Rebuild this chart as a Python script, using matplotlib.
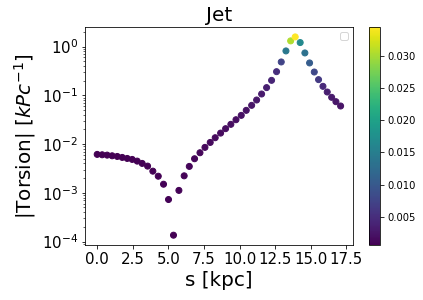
import numpy as np
import matplotlib
matplotlib.use('Agg')
import matplotlib.pyplot as plt

# arc length along the jet (kpc)
s = [0.0, 0.35, 0.70, 1.05, 1.41, 1.76, 2.11, 2.46, 2.81, 3.16,
     3.54, 3.91, 4.29, 4.66, 5.01, 5.36, 5.74, 6.11, 6.47, 6.84,
     7.22, 7.57, 7.94, 8.29, 8.67, 9.02, 9.39, 9.75, 10.12, 10.47,
     10.85, 11.20, 11.55, 11.90, 12.25, 12.60, 12.93, 13.26, 13.59, 13.91,
     14.26, 14.59, 14.92, 15.25, 15.55, 15.86, 16.16, 16.47, 16.77, 17.10]

# |torsion| (kPc^-1)
torsion = [0.00614, 0.00603, 0.00593, 0.00575, 0.00557, 0.00532, 0.00507, 0.00484, 0.00447, 0.00401,
           0.00353, 0.00278, 0.00219, 0.00150, 0.000728, 0.000135, 0.00112, 0.00223, 0.00348, 0.0050,
           0.00664, 0.00855, 0.0108, 0.0135, 0.0168, 0.0207, 0.0254, 0.0316, 0.0388, 0.0492,
           0.0623, 0.0802, 0.1065, 0.144, 0.203, 0.306, 0.484, 0.815, 1.31, 1.58,
           1.21, 0.741, 0.462, 0.301, 0.210, 0.153, 0.117, 0.091, 0.0741, 0.0604]

# colour value
cval = [0.0006, 0.0006, 0.0006, 0.0006, 0.0006, 0.0006, 0.0006, 0.0007, 0.0007, 0.0007,
        0.0007, 0.0007, 0.0007, 0.0008, 0.0008, 0.0006, 0.0008, 0.0009, 0.0010, 0.0011,
        0.0012, 0.0013, 0.0014, 0.0015, 0.0016, 0.0017, 0.0018, 0.0019, 0.0021, 0.0023,
        0.0025, 0.0028, 0.0031, 0.0035, 0.0041, 0.0051, 0.0074, 0.0142, 0.0305, 0.0345,
        0.0166, 0.0131, 0.0104, 0.0080, 0.0064, 0.0045, 0.0035, 0.0029, 0.0026, 0.0024]

xticks = [0.0, 2.5, 5.0, 7.5, 10.0, 12.5, 15.0, 17.5]
cticks = [0.005, 0.010, 0.015, 0.020, 0.025, 0.030]

fig = plt.figure(figsize=(423 / 72, 300 / 72), dpi=72)
ax = fig.add_axes([0.201, 0.183, 0.633, 0.727])
cax = fig.add_axes([0.872, 0.183, 0.027, 0.727])

sc = ax.scatter(s, torsion, c=cval, cmap='viridis')
ax.set_yscale('log')
ax.set_xticks(xticks)
ax.set_title('Jet', fontsize=20)
ax.set_xlabel('s [kpc]', fontsize=20)
ax.set_ylabel(r'|Torsion| [$kPc^{-1}$]', fontsize=20)
ax.tick_params(axis='both', which='major', labelsize=15)
ax.legend(handles=[])

cb = fig.colorbar(sc, cax=cax)
cb.set_ticks(cticks)
cb.ax.tick_params(labelsize=10)

fig.savefig('out.png', dpi=72)
